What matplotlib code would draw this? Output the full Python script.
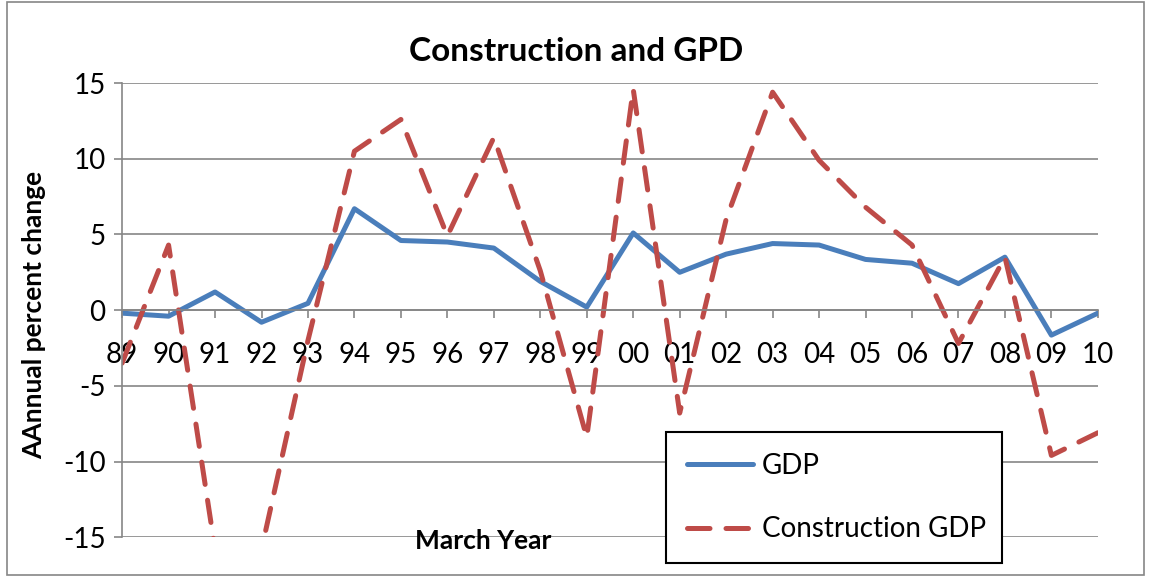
import matplotlib.pyplot as plt

plt.rcParams['font.family'] = ['Lato', 'DejaVu Sans']
plt.rcParams['axes.unicode_minus'] = False

years = ['89', '90', '91', '92', '93', '94', '95', '96', '97', '98', '99',
         '00', '01', '02', '03', '04', '05', '06', '07', '08', '09', '10']
gdp = [-0.2, -0.4, 1.2, -0.8, 0.45, 6.7, 4.6, 4.5, 4.1, 1.9, 0.2,
       5.1, 2.5, 3.7, 4.4, 4.3, 3.35, 3.1, 1.75, 3.5, -1.65, -0.2]
construction = [-3.5, 4.3, -15.8, -15.8, -2.0, 10.5, 12.6, 4.9, 11.4, 2.6, -8.4,
                14.6, -6.8, 6.0, 14.4, 9.9, 6.8, 4.3, -2.2, 3.5, -9.6, -8.1]

fig = plt.figure(figsize=(11.52, 5.77), dpi=100)
ax = fig.add_axes([0.106, 0.069, 0.847, 0.787])

x = range(len(years))
ax.plot(x, gdp, color='#4A7EBB', lw=3.6, label='GDP', solid_capstyle='round')
ax.plot(x, construction, color='#BE4B48', lw=3.6, label='Construction GDP',
        dashes=(4.5, 3.2), dash_capstyle='round')

ax.set_xlim(0, len(years) - 1)
ax.set_ylim(-15, 15)
ax.set_yticks([-15, -10, -5, 0, 5, 10, 15])
ax.grid(axis='y', color='#868686', lw=1.2)
ax.set_axisbelow(True)

ax.set_xticks(list(x))
ax.set_xticklabels(years)
ax.spines['bottom'].set_position(('data', 0))
for s in ['top', 'right']:
    ax.spines[s].set_visible(False)
ax.spines['left'].set_color('#868686')
ax.spines['bottom'].set_color('#868686')
ax.spines['left'].set_linewidth(1.2)
ax.spines['bottom'].set_linewidth(1.2)
ax.tick_params(axis='x', direction='out', length=6, width=1.2, color='#868686',
               pad=17, labelsize=20)
ax.tick_params(axis='y', direction='out', length=6, width=1.2, color='#868686',
               pad=6, labelsize=20)

fig.text(0.5, 0.91, 'Construction and GPD', ha='center', va='center',
         fontsize=24, fontweight='bold')
fig.text(0.03, 0.455, 'AAnnual percent change', rotation=90, ha='center',
         va='center', fontsize=19, fontweight='bold')
fig.text(0.419, 0.062, 'March Year', ha='center', va='center',
         fontsize=19, fontweight='bold')

leg = ax.legend(loc='lower left', bbox_to_anchor=(0.578, 0.024, 0.292, 0.222),
                bbox_transform=fig.transFigure, mode='expand', fontsize=20,
                frameon=True, fancybox=False, edgecolor='black',
                framealpha=1, handlelength=2.4, labelspacing=1.35,
                borderpad=0.75, handletextpad=0.3, borderaxespad=0)
leg.get_frame().set_linewidth(1.5)

border = plt.Rectangle((0.006, 0.003), 0.987, 0.994, transform=fig.transFigure,
                       fill=False, edgecolor='#868686', lw=1.2)
fig.patches.append(border)

fig.savefig('out.png')
